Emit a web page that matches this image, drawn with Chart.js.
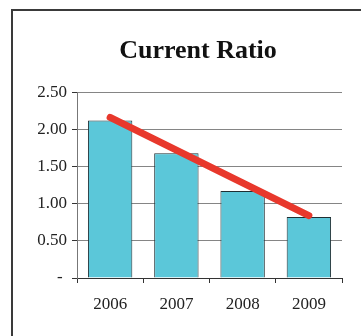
<!DOCTYPE html>
<html>
<head>
<meta charset="utf-8">
<script src="https://cdn.jsdelivr.net/npm/chart.js@4.4.0/dist/chart.umd.min.js"></script>
<style>
  html, body { margin: 0; padding: 0; background: #fff; overflow: hidden; }
  #wrap { position: relative; width: 361px; height: 336px; }
  #marco { position: absolute; left: 11px; top: 9px; width: 400px; height: 400px; border: 2px solid #3a3a3a; }
  #grafico1 { position: absolute; left: 0; top: 0; }
</style>
</head>
<body>
<div id="wrap">
  <div id="marco"></div>
  <canvas id="grafico1" width="361" height="336"></canvas>
</div>
<script>
// datos del grafico
var anios = ['2006', '2007', '2008', '2009'];
var ratio = [2.12, 1.68, 1.17, 0.82];
var tendencia = [2.16, 1.72, 1.28, 0.84];
var ticksY = [0, 0.5, 1, 1.5, 2, 2.5];

var fuente = "'Liberation Serif', 'DejaVu Serif', serif";

// el titulo va un poco a la derecha del centro, como en el original
var moverTitulo = {
  id: 'moverTitulo',
  afterLayout: function(chart) {
    chart.titleBlock.left += 27;
    chart.titleBlock.right += 27;
  }
};

//------------------------------------------------------------------------------------
// grafico current ratio
//------------------------------------------------------------------------------------
var ctx = document.getElementById('grafico1').getContext('2d');
var grafRatio = new Chart(ctx, {
  type: 'bar',
  data: {
    labels: anios,
    datasets: [{
      type: 'line',
      label: 'Tendencia',
      data: tendencia,
      borderColor: '#e8382c',
      borderWidth: 7,
      borderCapStyle: 'round',
      pointRadius: 0,
      fill: false,
      order: 0
    }, {
      label: 'Current Ratio',
      data: ratio,
      backgroundColor: '#5bc7d9',
      borderColor: '#1f2f33',
      borderWidth: 1,
      categoryPercentage: 1,
      barPercentage: 0.67,
      order: 1
    }]
  },
  options: {
    responsive: false,
    animation: false,
    layout: {
      padding: { left: 0, right: 19, top: 0, bottom: 0 }
    },
    plugins: {
      legend: { display: false },
      tooltip: { enabled: false },
      title: {
        display: true,
        text: 'Current Ratio',
        color: '#111',
        font: { family: fuente, size: 26, weight: 'bold' },
        padding: { top: 36, bottom: 25 }
      }
    },
    scales: {
      x: {
        afterFit: function(scale) { scale.height = 58; },
        grid: {
          offset: true,
          drawOnChartArea: false,
          drawTicks: true,
          tickLength: 5,
          color: '#333'
        },
        border: { color: '#333', width: 1 },
        ticks: {
          color: '#222',
          padding: 11,
          font: { family: fuente, size: 17 }
        }
      },
      y: {
        min: 0,
        max: 2.5,
        afterFit: function(scale) { scale.width = 77; },
        afterBuildTicks: function(scale) {
          scale.ticks = ticksY.map(function(v) { return { value: v }; });
        },
        grid: {
          color: '#858585',
          lineWidth: 1,
          tickLength: 5,
          tickColor: '#333'
        },
        border: { color: '#777', width: 1 },
        ticks: {
          color: '#222',
          padding: 5,
          font: { family: fuente, size: 17 },
          callback: function(v) {
            return v === 0 ? '- ' : v.toFixed(2);
          }
        }
      }
    }
  },
  plugins: [moverTitulo]
});
</script>
</body>
</html>
